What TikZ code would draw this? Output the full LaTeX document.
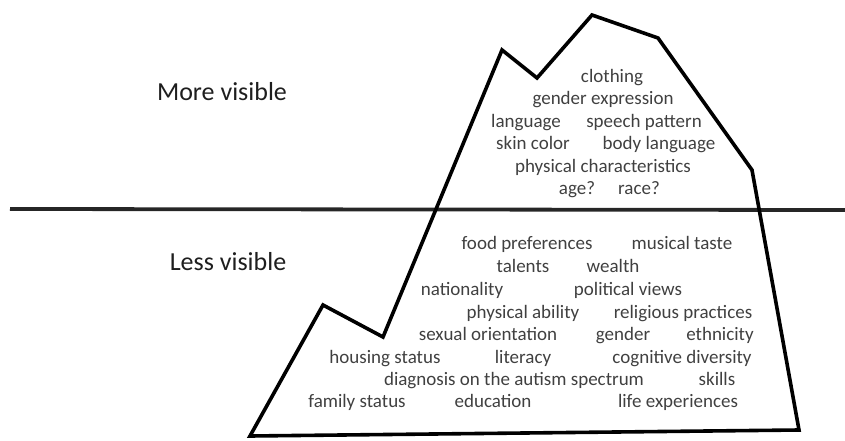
\documentclass[tikz,border=0pt]{standalone}
\usepackage{fontspec}
\setmainfont{Carlito}
\definecolor{txtgray}{HTML}{404040}
\definecolor{headgray}{HTML}{1E1E1E}
\begin{document}
\begin{tikzpicture}[x=1pt,y=-1pt,
  item/.style={font=\fontsize{19}{21}\selectfont, text=txtgray, inner sep=0pt, anchor=center, text height=10pt, text depth=1pt, yshift=-1.5pt},
  head/.style={font=\fontsize{26}{29}\selectfont, text=headgray, inner sep=0pt, text height=16pt, text depth=1pt, yshift=-1pt},
  outline/.style={line width=3.6pt, draw=black, line join=miter}]
\useasboundingbox (0,0) rectangle (845,441);
% horizon
\coordinate (hl) at (10,209);
\coordinate (hr) at (845,210);
\draw[line width=3.8pt, draw=black!85] (hl) -- (hr);
% iceberg
\coordinate (p1) at (502,50);
\coordinate (p2) at (537,78);
\coordinate (p3) at (592,15);
\coordinate (p4) at (658,38);
\coordinate (p5) at (752,170);
\coordinate (p6) at (799,430);
\coordinate (p7) at (250,436);
\coordinate (p8) at (323,305);
\coordinate (p9) at (383,337);
\draw[outline] (p1) -- (p2) -- (p3) -- (p4) -- (p5) -- (p6) -- (p7) -- (p8) -- (p9) -- cycle;
% headings
\node[head] (mv) at (222,92) {More visible};
\node[head] (lv) at (228,262) {Less visible};
% above
\node[item] (a1) at (612,77) {clothing};
\node[item] (a2) at (603,99) {gender expression};
\node[item] (a3) at (526,122) {language};
\node[item] (a4) at (644,122) {speech pattern};
\node[item] (a5) at (533,143) {skin color};
\node[item] (a6) at (659,143) {body language};
\node[item] (a7) at (603,166) {physical characteristics};
\node[item] (a8) at (577,188) {age?};
\node[item] (a9) at (639,188) {race?};
% below
\node[item] (b1) at (527,243) {food preferences};
\node[item] (b2) at (682,243) {musical taste};
\node[item] (b3) at (523,266) {talents};
\node[item] (b4) at (613,266) {wealth};
\node[item] (b5) at (462,289) {nationality};
\node[item] (b6) at (628,289) {political views};
\node[item] (b7) at (523,312) {physical ability};
\node[item] (b8) at (683,312) {religious practices};
\node[item] (b9) at (488,334) {sexual orientation};
\node[item] (b10) at (623,334) {gender};
\node[item] (b11) at (720,334) {ethnicity};
\node[item] (b12) at (385,357) {housing status};
\node[item] (b13) at (523,357) {literacy};
\node[item] (b14) at (682,357) {cognitive diversity};
\node[item] (b15) at (514,379) {diagnosis on the autism spectrum};
\node[item] (b16) at (717,379) {skills};
\node[item] (b17) at (357,401) {family status};
\node[item] (b18) at (493,401) {education};
\node[item] (b19) at (678,401) {life experiences};
\end{tikzpicture}
\end{document}
